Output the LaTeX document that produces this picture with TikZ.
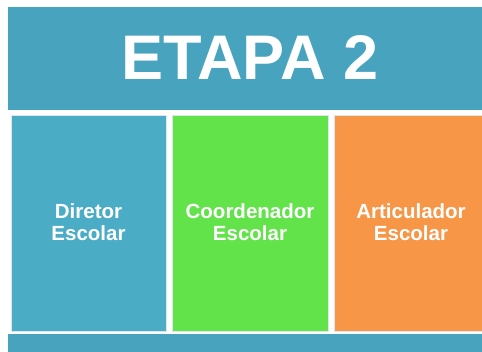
\documentclass[tikz,border=0pt]{standalone}
\usepackage{fontspec}
\setmainfont{Liberation Sans}
\definecolor{banner}{HTML}{48A4BE}
\definecolor{bluebox}{HTML}{4BACC6}
\definecolor{greenbox}{HTML}{62E34A}
\definecolor{orangebox}{HTML}{F79646}
\definecolor{edge}{HTML}{D8E8EE}
\begin{document}
\begin{tikzpicture}[x=1pt,y=-1pt,
  bannerbox/.style={fill=banner,draw=none},
  rolebox/.style={draw=edge,line width=1pt},
  roletext/.style={text=white,font=\fontsize{20.5}{22.5}\selectfont\bfseries,align=center}]
\useasboundingbox[fill=white] (0,0) rectangle (482,352);
\fill[bannerbox] (8,7) rectangle (482,110);
\node[text=white,font=\fontsize{63}{68}\selectfont\bfseries] (title) at (250,58) {ETAPA 2};
\filldraw[rolebox,fill=bluebox] (11.5,115.5) rectangle (166,332);
\filldraw[rolebox,fill=greenbox] (172.5,115.5) rectangle (328,332);
\filldraw[rolebox,fill=orangebox] (334.5,115.5) rectangle (483,332);
\node[roletext] (d) at (88.5,222) {Diretor\\Escolar};
\node[roletext] (c) at (250,222) {Coordenador\\Escolar};
\node[roletext] (a) at (411,222) {Articulador\\Escolar};
\fill[bannerbox] (8,334) rectangle (482,352);
\end{tikzpicture}
\end{document}
